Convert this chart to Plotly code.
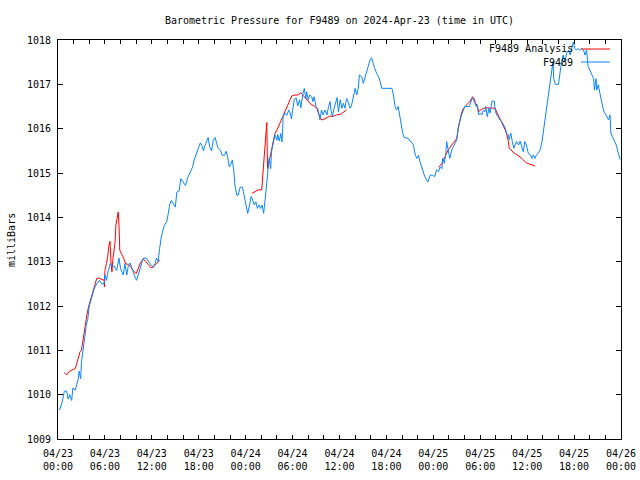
import pandas as pd
import plotly.graph_objects as go

START = pd.Timestamp("2024-04-23 00:00")

# Observed pressure (hours after 2024-04-23 00:00 UTC, millibars)
obs_hours = [0.1,0.26,0.55,0.81,1.1,1.3,1.5,1.75,1.9,2.2,2.4,2.6,2.7,2.9,3.0,3.2,3.4,3.6,3.8,4.0,4.3,4.65,4.95,5.3,5.6,5.9,6.0,6.2,6.4,6.7,6.9,7.2,7.5,7.8,8.0,8.2,8.35,8.55,8.8,9.0,9.2,9.4,9.6,9.85,10.05,10.3,10.5,10.7,10.9,11.3,11.55,11.9,12.2,12.4,12.6,12.8,13.0,13.25,13.6,13.9,14.1,14.3,14.5,14.75,15.0,15.2,15.5,15.7,16.0,16.3,16.6,16.9,17.2,17.4,17.7,17.9,18.2,18.4,18.6,18.8,19.0,19.2,19.4,19.65,19.85,20.1,20.3,20.5,20.8,21.0,21.3,21.5,21.7,21.9,22.1,22.3,22.5,22.6,22.85,23.05,23.3,23.6,
             23.7,23.9,24.1,24.26,24.5,24.7,24.9,25.1,25.3,25.5,25.7,25.9,26.1,26.3,26.5,26.7,26.9,27.0,27.2,27.3,27.55,27.75,28.0,28.1,28.3,28.5,28.65,28.8,29.0,29.25,29.5,29.7,29.85,30.0,30.2,30.45,30.65,30.9,31.05,31.3,31.5,31.7,31.8,32.0,32.2,32.45,32.6,32.75,33.0,33.2,33.4,33.5,33.7,33.9,34.15,34.4,34.6,34.8,34.9,35.1,35.3,35.5,35.7,35.85,36.1,36.3,36.5,36.7,36.9,37.1,37.35,37.55,37.8,38.0,38.2,38.4,38.55,38.85,39.05,39.3,39.5,39.7,39.9,40.1,40.3,40.5,40.75,41.0,41.2,41.4,42.7,42.9,43.1,43.3,43.5,43.7,43.9,44.1,44.25,44.8,45.0,45.2,45.45,45.7,45.9,46.1,46.3,46.5,46.7,46.9,47.15,47.3,
             47.6,47.9,48.2,48.4,48.65,48.9,49.1,49.2,49.4,49.6,49.7,49.9,50.1,50.35,50.6,50.8,51.0,51.2,51.4,51.6,51.85,52.05,52.6,52.8,53.0,53.25,53.5,53.6,53.8,54.0,54.2,54.4,54.6,54.7,54.9,55.1,55.25,55.5,55.8,55.9,56.1,56.3,56.5,56.75,56.95,57.2,57.4,57.6,57.7,57.9,58.1,58.3,58.45,58.65,58.9,59.1,59.3,59.5,59.7,59.9,60.15,60.4,60.6,60.8,61.0,61.2,61.4,61.65,61.9,62.1,62.3,62.5,62.7,62.9,63.1,63.3,63.4,63.6,64.0,64.2,64.4,64.6,64.8,65.05,65.3,65.5,65.7,65.9,66.1,66.3,66.5,66.7,66.97,67.2,67.4,67.6,67.8,68.0,68.25,68.5,68.6,68.8,68.9,69.1,69.3,69.5,69.75,69.95,70.2,70.4,70.6,70.7,70.9,71.15,71.4,71.6,71.8,71.9]
obs_mb = [1009.65,1009.68,1009.85,1010.08,1010.08,1009.9,1010.0,1009.87,1010.15,1010.1,1010.23,1010.36,1010.53,1010.36,1010.74,1010.96,1011.26,1011.56,1011.7,1012.0,1012.2,1012.4,1012.5,1012.58,1012.5,1012.5,1012.7,1012.58,1012.78,1012.96,1012.9,1012.9,1012.8,1013.08,1012.84,1012.77,1012.7,1012.95,1012.7,1012.92,1012.97,1012.88,1012.77,1012.65,1012.58,1012.73,1012.86,1012.95,1013.08,1013.08,1013.0,1012.92,1012.88,1012.95,1013.08,1013.0,1013.3,1013.6,1013.82,1013.9,1014.08,1014.3,1014.38,1014.3,1014.23,1014.57,1014.6,1014.87,1014.8,1014.72,1014.9,1015.02,1015.13,1015.29,1015.44,1015.5,1015.68,1015.62,1015.5,1015.62,1015.74,1015.8,1015.59,1015.5,1015.74,1015.8,1015.66,1015.55,1015.5,1015.4,1015.4,1015.49,1015.36,1015.14,1015.2,1015.29,1015.02,1014.76,1014.5,1014.5,1014.68,1014.68,
          1014.58,1014.39,1014.2,1014.09,1014.28,1014.47,1014.39,1014.28,1014.35,1014.2,1014.28,1014.2,1014.28,1014.09,1014.43,1014.8,1015.1,1015.33,1015.1,1015.48,1015.7,1015.86,1015.74,1015.87,1015.72,1015.89,1015.7,1016.27,1016.35,1016.3,1016.42,1016.35,1016.22,1016.47,1016.65,1016.7,1016.51,1016.65,1016.47,1016.77,1016.91,1016.68,1016.83,1016.65,1016.76,1016.72,1016.61,1016.72,1016.5,1016.46,1016.31,1016.2,1016.42,1016.31,1016.42,1016.31,1016.5,1016.61,1016.42,1016.27,1016.46,1016.57,1016.7,1016.38,1016.65,1016.46,1016.57,1016.46,1016.68,1016.61,1016.46,1016.53,1016.76,1016.91,1016.76,1016.91,1017.21,1017.17,1017.02,1017.17,1017.32,1017.47,1017.55,1017.6,1017.47,1017.36,1017.25,1017.17,1017.06,1016.91,1016.91,1016.76,1016.5,1016.42,1016.5,1016.27,1016.05,1015.89,1015.8,1015.78,1015.72,1015.7,1015.63,1015.4,1015.33,1015.4,1015.25,1015.14,1014.99,1014.92,1014.84,1014.8,
          1014.95,1014.95,1014.92,1015.07,1015.03,1015.14,1015.1,1015.33,1015.22,1015.44,1015.71,1015.52,1015.33,1015.52,1015.6,1015.67,1015.75,1016.05,1016.2,1016.31,1016.42,1016.5,1016.5,1016.61,1016.7,1016.61,1016.5,1016.54,1016.31,1016.35,1016.31,1016.42,1016.38,1016.5,1016.27,1016.46,1016.35,1016.62,1016.62,1016.42,1016.31,1016.27,1016.2,1016.16,1016.08,1016.01,1015.87,1015.86,1015.75,1015.9,1015.71,1015.56,1015.63,1015.71,1015.63,1015.72,1015.6,1015.48,1015.71,1015.63,1015.44,1015.41,1015.33,1015.41,1015.33,1015.41,1015.44,1015.52,1015.71,1015.97,1016.27,1016.54,1016.76,1016.99,1017.32,1017.51,1017.13,1017.0,1017.0,1017.29,1017.51,1017.66,1017.51,1017.7,1017.77,1017.66,1017.81,1017.95,1017.81,1017.77,1017.81,1017.77,1017.81,1017.77,1017.66,1017.77,1017.4,1017.32,1017.25,1017.13,1016.87,1017.13,1016.87,1016.99,1016.8,1016.65,1016.42,1016.35,1016.27,1016.2,1016.31,1015.9,1015.82,1015.71,1015.63,1015.48,1015.33,1015.3]

# Analysis series, three runs
ana1_hours = [0.81,1.1,1.5,2.0,2.2,2.4,2.6,2.8,3.0,3.2,3.45,3.7,3.9,4.1,4.3,4.5,4.7,4.95,5.2,5.6,5.9,5.95,6.0,6.2,6.35,6.5,6.65,6.8,6.9,7.0,7.1,7.3,7.4,7.55,7.7,7.8,7.9,8.1,8.35,8.65,9.0,9.3,9.6,10.0,10.3,10.6,10.9,11.2,11.55,11.9,12.2,12.4,12.75,13.0]
ana1_mb = [1010.5,1010.45,1010.53,1010.57,1010.59,1010.7,1010.85,1010.96,1011.0,1011.26,1011.5,1011.8,1011.98,1012.1,1012.24,1012.35,1012.48,1012.62,1012.63,1012.6,1012.58,1012.43,1012.8,1012.96,1013.1,1013.35,1013.46,1012.92,1012.77,1013.03,1013.2,1013.44,1013.82,1013.97,1014.12,1013.82,1013.26,1013.18,1013.1,1012.95,1012.94,1012.88,1012.8,1012.73,1012.88,1013.0,1013.05,1013.01,1012.93,1012.86,1012.88,1012.92,1013.0,1013.03]
ana2_hours = [24.8,25.2,25.6,26.05,26.2,26.35,26.5,26.6,26.7,26.8,26.9,27.1,27.3,27.55,27.75,28.0,28.2,28.4,28.6,28.8,29.0,29.25,29.5,29.7,29.9,30.3,30.7,31.05,31.3,31.6,31.8,32.0,32.2,32.45,32.65,32.9,33.1,33.3,33.5,33.7,33.9,34.15,34.4,34.6,34.8,35.1,35.4,35.6,36.1,36.4,36.7,36.9]
ana2_mb = [1014.54,1014.58,1014.62,1014.62,1014.95,1015.48,1015.74,1016.01,1016.14,1015.1,1015.18,1015.29,1015.48,1015.7,1015.89,1015.97,1016.05,1016.12,1016.2,1016.31,1016.38,1016.46,1016.57,1016.68,1016.74,1016.76,1016.76,1016.81,1016.76,1016.68,1016.65,1016.61,1016.57,1016.53,1016.53,1016.5,1016.46,1016.35,1016.27,1016.2,1016.2,1016.23,1016.25,1016.27,1016.29,1016.27,1016.29,1016.31,1016.32,1016.36,1016.4,1016.42]
ana3_hours = [48.7,49.1,49.5,49.9,50.35,50.8,51.0,51.2,51.4,51.6,51.85,52.2,52.5,52.7,52.9,53.0,53.2,53.4,53.6,53.8,54.0,54.2,54.4,54.8,55.25,55.9,56.1,56.3,56.5,56.75,56.95,57.2,57.4,57.6,57.7,57.9,58.2,58.6,58.9,59.2,59.4,59.65,59.9,60.3,60.6,61.0]
ana3_mb = [1015.13,1015.22,1015.37,1015.52,1015.63,1015.75,1015.78,1016.01,1016.2,1016.35,1016.46,1016.53,1016.57,1016.62,1016.68,1016.72,1016.68,1016.57,1016.53,1016.38,1016.42,1016.44,1016.46,1016.47,1016.46,1016.46,1016.38,1016.31,1016.23,1016.12,1016.05,1015.97,1015.86,1015.71,1015.56,1015.52,1015.47,1015.42,1015.39,1015.35,1015.31,1015.26,1015.23,1015.2,1015.18,1015.16]

tick_hours = list(range(0, 73, 2))
y_ticks = list(range(1009, 1019))

def to_time(hours):
    return [START + pd.Timedelta(hours=h) if h is not None else None for h in hours]

ana_hours = ana1_hours + [None] + ana2_hours + [None] + ana3_hours
ana_mb = ana1_mb + [None] + ana2_mb + [None] + ana3_mb

FONT = "DejaVu Sans Mono"
RED = "#ff0000"
BLUE = "#0a84ff"

fig = go.Figure()
fig.add_trace(go.Scatter(x=to_time(ana_hours), y=ana_mb, mode="lines",
                         line=dict(color=RED, width=1), connectgaps=False,
                         name="F9489 Analysis", showlegend=False, hoverinfo="skip"))
fig.add_trace(go.Scatter(x=to_time(obs_hours), y=obs_mb, mode="lines",
                         line=dict(color=BLUE, width=1),
                         name="F9489", showlegend=False, hoverinfo="skip"))

tickvals = to_time(tick_hours)
ticktext = [(START + pd.Timedelta(hours=h)).strftime("%m/%d<br>%H:%M") if h % 6 == 0 else ""
            for h in tick_hours]

fig.update_xaxes(type="date", range=[START, START + pd.Timedelta(hours=72)],
                 tickmode="array", tickvals=tickvals, ticktext=ticktext,
                 ticks="inside", ticklen=4, tickcolor="black", tickwidth=1,
                 ticklabelstandoff=5,
                 showline=True, linecolor="black", linewidth=1, mirror="allticks",
                 showgrid=False, zeroline=False,
                 tickfont=dict(family=FONT, size=10, color="black"))
fig.update_yaxes(range=[1009, 1018], tickmode="array", tickvals=y_ticks,
                 ticktext=[str(v) for v in y_ticks],
                 ticks="inside", ticklen=5, tickcolor="black", tickwidth=1,
                 ticklabelstandoff=4,
                 showline=True, linecolor="black", linewidth=1, mirror="allticks",
                 showgrid=False, zeroline=False,
                 tickfont=dict(family=FONT, size=10, color="black"))

# page body margin removed by post_script; lay out in window pixels
W, H = 640, 480
L, R, T, B = 58, 19, 40, 41
pw, ph = W - L - R, H - T - B

def px_x(px):
    return (px - L) / pw

def px_y(py):
    return 1 - (py - T) / ph

annotations = [
    dict(text="milliBars", x=px_x(11), y=px_y(240), xref="paper", yref="paper",
         textangle=-90, showarrow=False, font=dict(family=FONT, size=10, color="black"),
         xanchor="center", yanchor="middle"),
    dict(text="F9489 Analysis", x=px_x(575), y=px_y(49), xref="paper", yref="paper",
         showarrow=False, xanchor="right", yanchor="middle",
         font=dict(family=FONT, size=10, color="black")),
    dict(text="F9489", x=px_x(575), y=px_y(62), xref="paper", yref="paper",
         showarrow=False, xanchor="right", yanchor="middle",
         font=dict(family=FONT, size=10, color="black")),
]
shapes = [
    dict(type="line", xref="paper", yref="paper", x0=px_x(581), x1=px_x(610),
         y0=px_y(49), y1=px_y(49), line=dict(color=RED, width=1)),
    dict(type="line", xref="paper", yref="paper", x0=px_x(581), x1=px_x(610),
         y0=px_y(62), y1=px_y(62), line=dict(color=BLUE, width=1)),
]

fig.update_layout(
    width=W, height=H,
    margin=dict(l=L, r=R, t=T, b=B, autoexpand=False),
    paper_bgcolor="white", plot_bgcolor="white",
    title=dict(text="Barometric Pressure for F9489 on 2024-Apr-23 (time in UTC)",
               x=0.5, xref="paper", xanchor="center",
               y=1 - 20 / H, yref="container", yanchor="middle",
               font=dict(family=FONT, size=10, color="black")),
    annotations=annotations, shapes=shapes,
    showlegend=False,
    hovermode=False,
)

fig.write_html("out.html", config={"displayModeBar": False, "staticPlot": True},
               post_script="document.body.style.margin='0';document.body.style.overflow='hidden';")
